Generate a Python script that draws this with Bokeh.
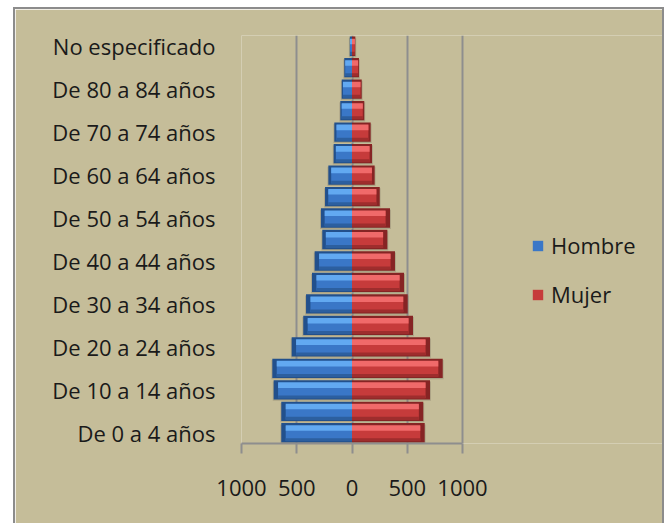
import numpy as np
from bokeh.plotting import figure
from bokeh.models import FixedTicker, Legend, LegendItem
from bokeh.embed import file_html
from bokeh.resources import INLINE

categories = ["De 0 a 4 años", "De 5 a 9 años", "De 10 a 14 años", "De 15 a 19 años",
              "De 20 a 24 años", "De 25 a 29 años", "De 30 a 34 años", "De 35 a 39 años",
              "De 40 a 44 años", "De 45 a 49 años", "De 50 a 54 años", "De 55 a 59 años",
              "De 60 a 64 años", "De 65 a 69 años", "De 70 a 74 años", "De 75 a 79 años",
              "De 80 a 84 años", "De 85 y más años", "No especificado"]
hombre = [640, 640, 709, 721, 546, 441, 416, 362, 338, 269, 281, 244, 214, 166, 160, 106, 93, 70, 20]
mujer = [658, 645, 706, 821, 706, 552, 504, 471, 389, 320, 344, 251, 205, 181, 169, 111, 88, 63, 30]
x_ticks = [-1000, -500, 0, 500, 1000]
x_tick_labels = ["1000", "500", "0", "500", "1000"]

BG = "#c5bd99"
FONT = "Open Sans"

y = np.arange(len(categories))
h = np.array(hombre, dtype=float)
m = np.array(mujer, dtype=float)

# frame extends to the right edge so the legend can live inside it;
# axis & grid are bounded to the data span (-1000..1000 drawn over 221 px)
FIG_W, LEFT_B = 651, 226
frame_w = FIG_W - LEFT_B
x_end = x_ticks[0] + (x_ticks[-1] - x_ticks[0]) * frame_w / 221.0

p = figure(width=FIG_W, height=516, output_backend="svg", toolbar_location=None,
           x_range=(x_ticks[0], x_end), y_range=(-0.5, len(categories) - 0.5),
           min_border_left=LEFT_B, min_border_right=0, min_border_top=26, min_border_bottom=82)
p.margin = (7, 0, 0, 13)
p.styles = {"border-left": "2px solid #8c8c8c", "border-top": "2px solid #8c8c8c",
            "border-right": "2px solid #8c8c8c"}
p.background_fill_color = BG
p.border_fill_color = BG
p.outline_line_color = None

# grid
p.ygrid.grid_line_color = None
p.xgrid.ticker = FixedTicker(ticks=x_ticks)
p.xgrid.grid_line_color = "#8e8e8e"
p.xgrid.grid_line_width = 2

# axes
p.xaxis.bounds = (x_ticks[0], x_ticks[-1])
p.xaxis.ticker = FixedTicker(ticks=x_ticks)
p.xaxis.major_label_overrides = {t: l for t, l in zip(x_ticks, x_tick_labels)}
p.xaxis.axis_line_color = "#8e8e8e"
p.xaxis.axis_line_width = 2
p.xaxis.major_tick_line_color = "#8e8e8e"
p.xaxis.major_tick_line_width = 2
p.xaxis.major_tick_out = 10
p.xaxis.major_tick_in = 0
p.xaxis.minor_tick_line_color = None
p.xaxis.major_label_standoff = 26
p.xaxis.major_label_text_font = FONT
p.xaxis.major_label_text_font_size = "22px"
p.xaxis.major_label_text_color = "#1a1a1a"

p.yaxis.ticker = FixedTicker(ticks=list(y[::2]))
p.yaxis.major_label_overrides = {int(i): categories[i] for i in y}
p.yaxis.axis_line_color = None
p.yaxis.major_tick_line_color = None
p.yaxis.minor_tick_line_color = None
p.yaxis.major_label_standoff = 20
p.yaxis.major_label_text_font = FONT
p.yaxis.major_label_text_font_size = "22px"
p.yaxis.major_label_text_color = "#1a1a1a"

def bevel_bars(left, right, dark, main, light, shade):
    sgn = np.sign(left + right)
    p.hbar(y=y - 0.06, left=left + 8 * sgn, right=right + 8 * sgn,
           height=0.9, fill_color="#7a7460", fill_alpha=0.35, line_color=None)
    p.hbar(y=y, left=left, right=right, height=0.9, fill_color=dark, line_color=None)
    width = np.abs(right - left)
    inset = np.minimum(40, 0.12 * width)
    inner_l = np.where(sgn < 0, left + inset, left)
    inner_r = np.where(sgn < 0, right, right - inset)
    mainr = p.hbar(y=y - 0.03, left=inner_l, right=inner_r, height=0.7, fill_color=main, line_color=None)
    p.hbar(y=y + 0.22, left=inner_l, right=inner_r, height=0.26, fill_color=light, line_color=None)
    p.hbar(y=y - 0.33, left=inner_l, right=inner_r, height=0.14, fill_color=shade, line_color=None)
    return mainr

rb = bevel_bars(-h, np.zeros_like(h), "#22508c", "#3a77c7", "#62a9f1", "#2c5f9f")
rr = bevel_bars(np.zeros_like(m), m, "#862424", "#c63b3b", "#f06a6a", "#9e2d2d")

legend = Legend(items=[LegendItem(label="Hombre", renderers=[rb]),
                       LegendItem(label="Mujer", renderers=[rr])],
                location=(290, 134))
legend.background_fill_alpha = 0
legend.border_line_color = None
legend.padding = 0
legend.margin = 0
legend.spacing = 19
legend.glyph_width = 13
legend.glyph_height = 13
legend.label_text_font = FONT
legend.label_text_font_size = "22px"
legend.label_text_color = "#1a1a1a"
legend.label_standoff = 7
p.add_layout(legend, "center")

open("out.html", "w").write(file_html(p, INLINE))
